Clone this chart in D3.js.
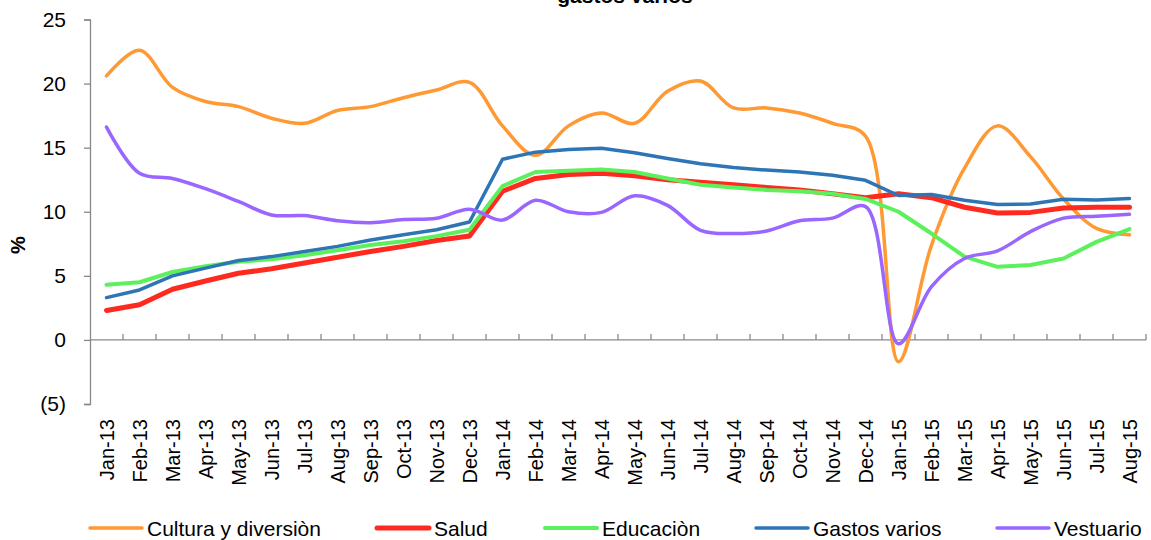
<!DOCTYPE html>
<html>
<head>
<meta charset="utf-8">
<script src="https://cdn.jsdelivr.net/npm/d3@7"></script>
<style>
body { margin: 0; background: #fff; }
text { font-family: "Liberation Sans", Arial, sans-serif; fill: #000; }
</style>
</head>
<body>
<svg id="view" width="1151" height="540"></svg>
<script>
const months = ['Jan-13','Feb-13','Mar-13','Apr-13','May-13','Jun-13','Jul-13','Aug-13','Sep-13','Oct-13','Nov-13','Dec-13',
    'Jan-14','Feb-14','Mar-14','Apr-14','May-14','Jun-14','Jul-14','Aug-14','Sep-14','Oct-14','Nov-14','Dec-14',
    'Jan-15','Feb-15','Mar-15','Apr-15','May-15','Jun-15','Jul-15','Aug-15'];
const yTicks = [-5, 0, 5, 10, 15, 20, 25];

const cultura = [20.6,22.6,19.7,18.6,18.2,17.3,16.9,17.9,18.2,18.9,19.5,20.1,
    16.7,14.4,16.7,17.7,16.9,19.4,20.2,18.1,18.1,17.7,16.9,15.9,
    -1.7,7.4,13.4,16.7,14.3,11.0,8.7,8.2];
const salud = [2.3,2.75,3.95,4.6,5.2,5.55,6.0,6.45,6.9,7.3,7.75,8.1,
    11.6,12.6,12.9,13.0,12.8,12.5,12.3,12.1,11.9,11.7,11.4,11.1,
    11.4,11.1,10.35,9.9,9.95,10.3,10.35,10.35];
const educacion = [4.3,4.5,5.3,5.75,6.1,6.3,6.6,7.0,7.4,7.7,8.1,8.6,
    12.0,13.1,13.2,13.3,13.1,12.6,12.1,11.9,11.7,11.6,11.4,11.0,
    10.0,8.3,6.5,5.7,5.85,6.35,7.65,8.65];
const gastos = [3.3,3.9,5.0,5.6,6.2,6.5,6.9,7.3,7.8,8.2,8.6,9.2,
    14.1,14.65,14.85,14.95,14.6,14.15,13.75,13.45,13.25,13.1,12.85,12.45,
    11.27,11.35,10.9,10.57,10.6,10.98,10.92,11.03];
const vestuario = [16.6,13.0,12.6,11.8,10.8,9.75,9.7,9.3,9.15,9.4,9.5,10.2,
    9.35,10.9,10.0,9.95,11.25,10.5,8.55,8.3,8.5,9.3,9.5,10.4,
    -0.3,4.15,6.35,6.95,8.45,9.5,9.65,9.8];

const series = [
    {name: 'Cultura y diversiòn', values: cultura, color: '#FF9933', width: 3.5, smooth: true},
    {name: 'Salud', values: salud, color: '#FF2A1F', width: 5, smooth: false},
    {name: 'Educaciòn', values: educacion, color: '#5CF05C', width: 4, smooth: false},
    {name: 'Gastos varios', values: gastos, color: '#2E75B6', width: 3.5, smooth: false},
    {name: 'Vestuario', values: vestuario, color: '#9966FF', width: 3.5, smooth: true}
];
const legendX = [90, 377, 545, 756, 997];

var view = d3.select('#view');
const LEFT=90, RIGHT=1146, TOP=19.5, BOTTOM=404;
const AXIS='#898989';

var x = d3.scaleBand().domain(months).range([LEFT, RIGHT]);
var y = d3.scaleLinear().domain([-5, 25]).range([BOTTOM, TOP]);
const cx = m => x(m) + x.bandwidth()/2;

// title (only the second line shows at the top edge)
view.append('text')
    .attr('x', 625).attr('y', 3)
    .attr('text-anchor', 'middle')
    .style('font-size', '21px').style('font-weight', 'bold')
    .text('gastos varios');

// y axis
var yAxis = view.append('g')
    .attr('transform', 'translate(' + LEFT + ',0)')
    .call(d3.axisLeft(y).tickValues(yTicks).tickSize(6).tickPadding(18)
        .tickFormat(d => d < 0 ? '(' + (-d) + ')' : d));
yAxis.selectAll('path, line').attr('stroke', AXIS).attr('stroke-width', 1.3);
yAxis.selectAll('text').style('font-size', '21px').attr('fill', '#000');

view.append('text')
    .attr('transform', 'translate(25,245) rotate(-90)')
    .attr('text-anchor', 'middle')
    .style('font-size', '20px').style('font-weight', 'bold')
    .text('%');

// x axis along zero
view.append('line')
    .attr('x1', LEFT).attr('x2', RIGHT)
    .attr('y1', y(0)).attr('y2', y(0))
    .attr('stroke', AXIS).attr('stroke-width', 1.3);
view.selectAll('line.xtick').data(months).enter().append('line')
    .attr('class', 'xtick')
    .attr('x1', m => x(m) + x.bandwidth()).attr('x2', m => x(m) + x.bandwidth())
    .attr('y1', y(0) - 6).attr('y2', y(0))
    .attr('stroke', AXIS).attr('stroke-width', 1.3);
view.selectAll('text.xlab').data(months).enter().append('text')
    .attr('class', 'xlab')
    .attr('transform', m => 'translate(' + (cx(m) + 7) + ',419) rotate(-90)')
    .attr('text-anchor', 'end')
    .style('font-size', '20px')
    .text(m => m);

// series
series.forEach(function(s) {
    var line = d3.line()
        .x((v, i) => cx(months[i]))
        .y(v => y(v))
        .curve(s.smooth ? d3.curveCatmullRom.alpha(0.5) : d3.curveLinear);
    view.append('path')
        .attr('d', line(s.values))
        .attr('fill', 'none')
        .attr('stroke', s.color)
        .attr('stroke-width', s.width)
        .attr('stroke-linejoin', 'round')
        .attr('stroke-linecap', 'round');
});

// legend
var leg = view.selectAll('g.leg').data(series).enter().append('g')
    .attr('class', 'leg')
    .attr('transform', (s, i) => 'translate(' + legendX[i] + ',528)');
leg.append('line')
    .attr('x1', 0).attr('x2', 52)
    .attr('stroke', s => s.color)
    .attr('stroke-width', s => s.width)
    .attr('stroke-linecap', 'round');
leg.append('text')
    .attr('x', 57).attr('y', 7.5)
    .style('font-size', '21px')
    .text(s => s.name);
</script>
</body>
</html>
